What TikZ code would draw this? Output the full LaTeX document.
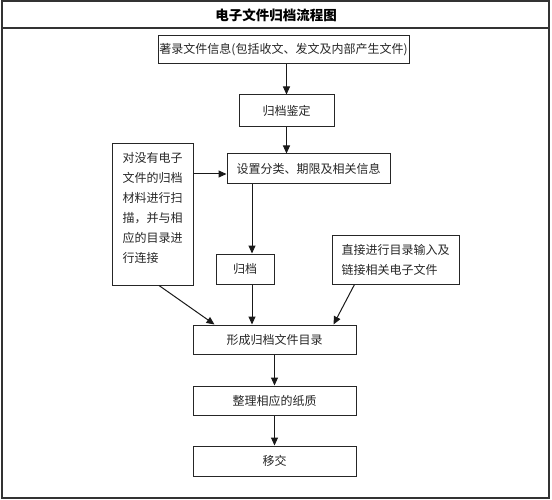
\documentclass[tikz,border=0pt]{standalone}
\usepackage{fontspec}
\setmainfont{Noto Sans CJK SC}
\usetikzlibrary{arrows.meta}

\begin{document}
\begin{tikzpicture}[x=1pt,y=-1pt]
      \tikzset{
        box/.style={rectangle,draw=black!85,line width=1pt,inner sep=0pt,minimum width=163pt,minimum height=29pt,text=black!85,font=\fontsize{12}{20}\selectfont},
        flow/.style={draw=black!90,line width=1pt,-{Triangle[length=8pt,width=7pt]}}
      }

      \useasboundingbox (0,0) rectangle (552,500);
      \draw[line width=1.2pt,draw=black!80] (2,1) rectangle (549,498);
      \draw[line width=1.2pt,draw=black!80] (2,28) -- (549,28);
      \node[font=\bfseries\fontsize{13.5}{16}\selectfont] (title) at (276,15) {电子文件归档流程图};

      \node[box,minimum width=251pt,minimum height=28pt] (info) at (283.5,50) {著录文件信息(包括收文、发文及内部产生文件)};
      \node[box,below of=info,node distance=61pt,xshift=3pt,minimum width=95pt,minimum height=32pt] (appraise) {归档鉴定};
      \node[box,below of=appraise,node distance=58pt,xshift=22pt,minimum height=30pt] (classify) {设置分类、期限及相关信息};
      \node[box,below of=classify,node distance=100pt,xshift=-63.5pt,minimum width=58pt,minimum height=30pt] (archive) {归档};
      \node[box,below of=archive,node distance=70.5pt,xshift=29.5pt] (catalog) {形成归档文件目录};
      \node[box,below of=catalog,node distance=61pt] (paper) {整理相应的纸质};
      \node[box,below of=paper,node distance=60.5pt,minimum height=30pt] (transfer) {移交};

      \node[box,minimum width=81pt,minimum height=141pt,align=left,text depth=15pt] (scan) at (152.5,214.5)
        {对没有电子\\文件的归档\\材料进行扫\\描，并与相\\应的目录进\\行连接};
      \node[box,minimum width=127pt,minimum height=49pt,align=left] (direct) at (395.5,259.5)
        {直接进行目录输入及\\链接相关电子文件};

      \coordinate (drop) at ([xshift=7pt]archive.north);
      \coordinate (rise) at ([xshift=7pt]archive.south);
      \coordinate (feed) at ([yshift=-5pt]classify.west);

      \path (appraise |- info.south) edge[flow] (appraise.north)
            (appraise.south) edge[flow] (appraise |- classify.north)
            (feed -| scan.east) edge[flow] (feed)
            (drop |- classify.south) edge[flow] (drop)
            (rise) edge[flow] (rise |- catalog.north)
            ([xshift=6.5pt]scan.south) edge[flow] ([xshift=22pt]catalog.north west)
            ([xshift=23pt]direct.south west) edge[flow] ([xshift=-23pt]catalog.north east)
            (catalog) edge[flow] (paper)
            (paper) edge[flow] (transfer);
    \end{tikzpicture}
\end{document}
